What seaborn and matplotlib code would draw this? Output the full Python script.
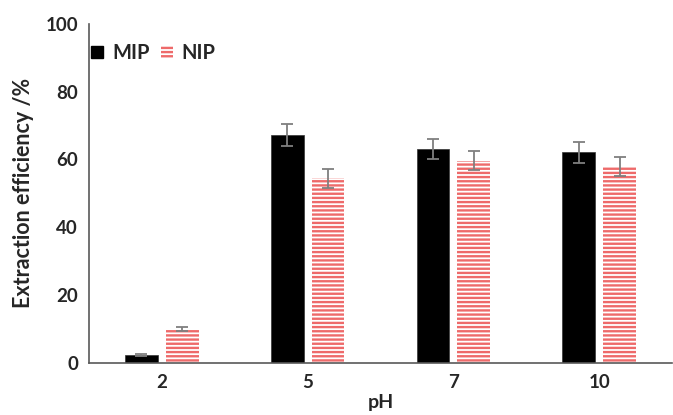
import matplotlib
matplotlib.use("Agg")
import matplotlib.pyplot as plt
import seaborn as sns
import pandas as pd
import numpy as np
from matplotlib.patches import Patch

ph_labels = ["2", "5", "7", "10"]
mip_values = [2.3, 67.2, 63.0, 62.1]
nip_values = [10.0, 54.4, 59.6, 57.9]
mip_err = [0.2, 3.3, 3.0, 3.0]
nip_err = [0.5, 2.7, 2.8, 2.7]
series = ["MIP", "NIP"]

sns.set_style("white")
plt.rcParams['font.family'] = ['Lato', 'DejaVu Sans']
plt.rcParams['hatch.linewidth'] = 1.7

df = pd.DataFrame({
    "pH": ph_labels * 2,
    "value": mip_values + nip_values,
    "series": [series[0]] * 4 + [series[1]] * 4,
})

fig = plt.figure(figsize=(6.73, 4.15), dpi=100)
ax = fig.add_axes([89/673, (415-362.7)/415, (672-89)/673, (362.7-24)/415])

sns.barplot(data=df, x="pH", y="value", hue="series", order=ph_labels,
            hue_order=series, palette={"MIP": "black", "NIP": "white"},
            width=0.56, gap=0.2, errorbar=None, ax=ax, legend=False,
            linewidth=0)

red = "#EE6A6A"
n = len(ph_labels)
patches = ax.patches[:2*n]
for i, p in enumerate(patches):
    if i >= n:
        p.set_facecolor("white")
        p.set_edgecolor(red)
        p.set_hatch("----")
        p.set_linewidth(0)
    else:
        p.set_edgecolor("#333333")
        p.set_linewidth(0.5)

errs = mip_err + nip_err
vals = mip_values + nip_values
for p, v, e in zip(patches, vals, errs):
    xc = p.get_x() + p.get_width() / 2
    ax.errorbar(xc, v, yerr=e, fmt="none", ecolor="#7F7F7F", elinewidth=1.3,
                capsize=4, capthick=1.3, zorder=5)

ax.set_xlim(-0.5, n - 0.5)
ax.set_ylim(0, 100)
ax.set_yticks([0, 20, 40, 60, 80, 100])
ax.set_xticks(range(n))
ax.set_xticklabels(ph_labels, fontsize=13.5, fontweight="bold")
ax.set_xticks(np.arange(0.5, n - 0.5, 1.0), minor=True)
ax.tick_params(axis="x", which="major", length=0, pad=8)
ax.tick_params(axis="x", which="minor", direction="in", length=5, width=1, color="#595959")
ax.tick_params(axis="y", direction="out", length=3, width=1, color="#595959", labelsize=13.5, pad=5)
for lab in ax.get_yticklabels():
    lab.set_fontweight("bold")

for s in ["top", "right"]:
    ax.spines[s].set_visible(False)
for s in ["left", "bottom"]:
    ax.spines[s].set_color("#595959")
    ax.spines[s].set_linewidth(1.2)

ax.set_xlabel("pH", fontsize=14, fontweight="bold", labelpad=2)
ax.set_ylabel("Extraction efficiency /%", fontsize=15.5, fontweight="bold", labelpad=8)

handles = [Patch(facecolor="black", edgecolor="black"),
           Patch(facecolor="white", edgecolor=red, hatch="----", linewidth=0)]
ax.legend(handles, series, loc="upper left", bbox_to_anchor=(91/673, 1 - 43/415),
          bbox_transform=fig.transFigure, ncol=2, frameon=False,
          handlelength=0.6, handleheight=0.6, handletextpad=0.45, columnspacing=0.55,
          prop={"weight": "bold", "size": 14.5}, borderaxespad=0, borderpad=0)

fig.savefig("out.png", dpi=100)
